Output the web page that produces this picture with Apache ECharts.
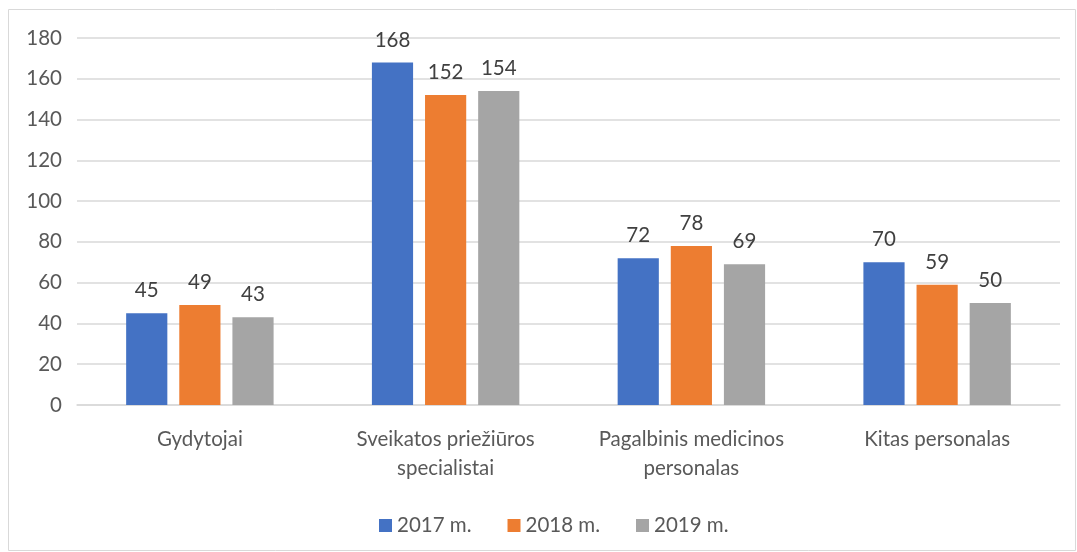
<!DOCTYPE html>
<html>
<head>
<meta charset="utf-8">
<script src="https://cdn.jsdelivr.net/npm/echarts@6/dist/echarts.min.js"></script>
<style>
  html, body { margin: 0; padding: 0; background: #fff; }
  #chart { width: 1077px; height: 552px; }
</style>
</head>
<body>
<div id="chart"></div>
<script>
const categories = ['Gydytojai', 'Sveikatos priežiūros\nspecialistai', 'Pagalbinis medicinos\npersonalas', 'Kitas personalas'];
const years = ['2017 m.', '2018 m.', '2019 m.'];
const values2017 = [45, 168, 72, 70];
const values2018 = [49, 152, 78, 59];
const values2019 = [43, 154, 69, 50];
const colors = ['#4472C4', '#ED7D31', '#A5A5A5'];

const font = 'Lato, "Open Sans", sans-serif';

const makeSeries = (name, data, color) => ({
  name,
  type: 'bar',
  data,
  barGap: '29%',
  barCategoryGap: '40%',
  itemStyle: { color },
  label: {
    show: true,
    position: 'top',
    distance: 12,
    color: '#404040',
    fontSize: 20.5,
    fontFamily: font,
  },
});

const chart = echarts.init(document.getElementById('chart'));
chart.setOption({
  animation: false,
  textStyle: { fontFamily: font },
  graphic: [{
    type: 'rect',
    shape: { x: 8.5, y: 9.5, width: 1067, height: 541 },
    style: { fill: 'none', stroke: '#D9D9D9', lineWidth: 1 },
  }],
  grid: { left: 77, right: 17, top: 38, bottom: 147 },
  legend: {
    top: 515,
    left: 379,
    padding: 0,
    itemWidth: 13,
    itemHeight: 13,
    itemGap: 36,
    itemTextGap: 4,
    icon: 'rect',
    textStyle: { color: '#595959', fontSize: 20.5, fontFamily: font },
    data: years,
  },
  xAxis: {
    type: 'category',
    data: categories,
    axisTick: { show: false },
    axisLine: { lineStyle: { color: '#D9D9D9', width: 1.5 } },
    axisLabel: { color: '#595959', fontSize: 20.5, lineHeight: 29, margin: 20, fontFamily: font },
  },
  yAxis: {
    type: 'value',
    min: 0,
    max: 180,
    interval: 20,
    axisLine: { show: false },
    axisTick: { show: false },
    splitLine: { lineStyle: { color: '#D9D9D9', width: 1.5 } },
    axisLabel: { color: '#595959', fontSize: 20.5, margin: 15, fontFamily: font },
  },
  series: [
    makeSeries(years[0], values2017, colors[0]),
    makeSeries(years[1], values2018, colors[1]),
    makeSeries(years[2], values2019, colors[2]),
  ],
});
</script>
</body>
</html>
